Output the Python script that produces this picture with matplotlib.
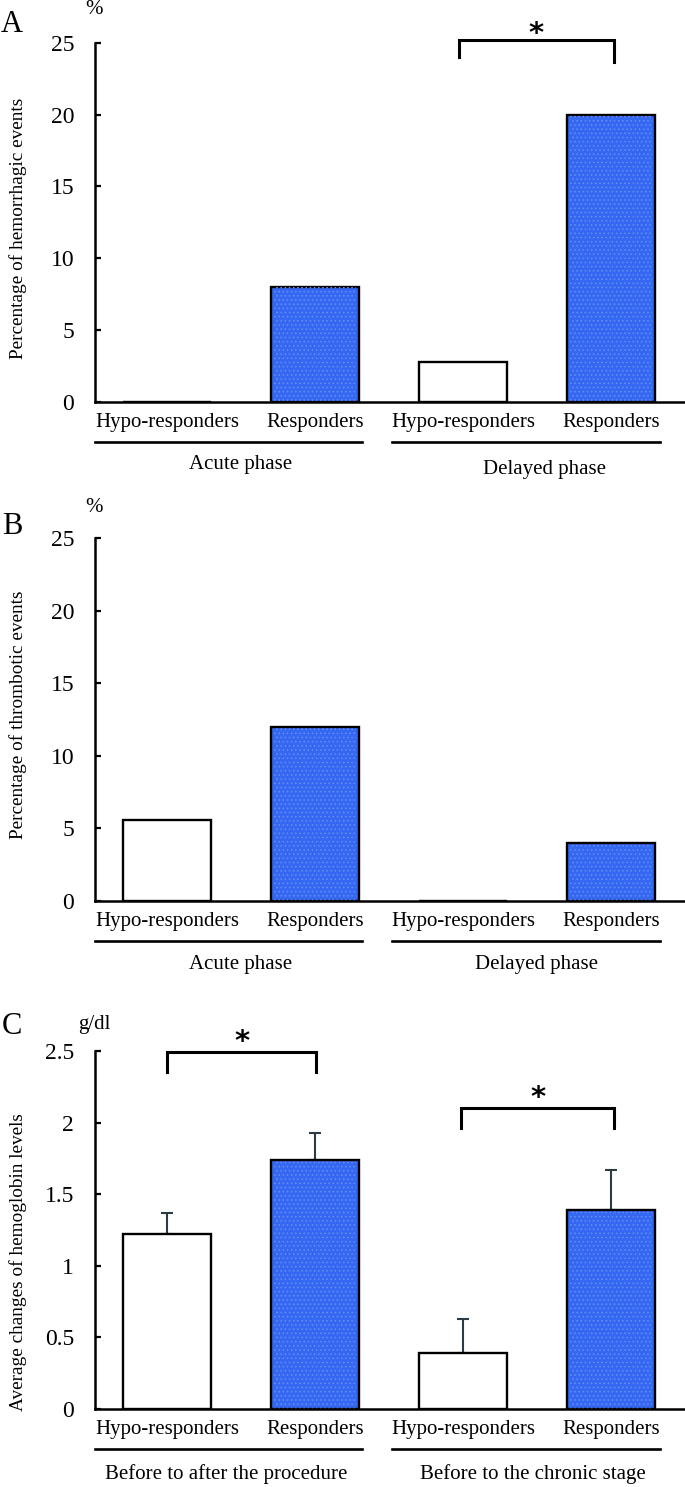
import matplotlib
matplotlib.use("Agg")
import matplotlib.pyplot as plt

plt.rcParams['font.family'] = ['Liberation Serif', 'DejaVu Serif']
plt.rcParams['hatch.linewidth'] = 0.6

# Données
groupes = ["Hypo-responders", "Responders", "Hypo-responders", "Responders"]
couleurs = ["white", "#3468f2", "white", "#3468f2"]

hemorragie = [0, 8, 2.8, 20]
thrombose = [5.6, 12, 0, 4]
hemoglobine = [1.22, 1.74, 0.39, 1.39]
hemoglobine_err = [0.15, 0.19, 0.24, 0.28]

phases_ab = ["Acute phase", "Delayed phase"]
phases_c = ["Before to after the procedure", "Before to the chronic stage"]

W, H = 685, 1487
fig = plt.figure(figsize=(W / 100, H / 100), dpi=100)


def px_axes(top, bottom):
    # axe placé en pixels (haut, bas), de x=95 jusqu'au bord droit
    return fig.add_axes([95 / W, 1 - bottom / H, 590 / W, (bottom - top) / H])


def panneau(ax, valeurs, ymax, yticks, ylabels, phases, phase_x, phase_dy,
            err=None):
    x = list(range(len(valeurs)))
    ax.bar(x, valeurs, width=0.59, color=couleurs, edgecolor="black",
           linewidth=1.7, zorder=3)
    # léger grain pointillé sur les barres bleues
    xb = [i for i in x if couleurs[i] != "white"]
    vb = [valeurs[i] for i in xb]
    ax.bar(xb, vb, width=0.55, color="none", edgecolor="#6a8ef0",
           linewidth=0, hatch="....", zorder=4)
    if err is not None:
        ax.errorbar(x, valeurs, yerr=[[0] * len(err), err], fmt="none",
                    ecolor="#2d3c44", elinewidth=1.5, capsize=4, capthick=1.5,
                    zorder=2)
    ax.set_xlim(-0.486, 3.5)
    ax.set_ylim(0, ymax)
    ax.set_yticks(yticks, ylabels, fontsize=17)
    ax.set_xticks(x, groupes, fontsize=15)
    ax.tick_params(axis="y", direction="in", length=4, width=1.6, pad=15)
    ax.tick_params(axis="x", length=0, pad=8)
    for s in ["top", "right"]:
        ax.spines[s].set_visible(False)
    ax.spines["left"].set_linewidth(1.8)
    ax.spines["bottom"].set_linewidth(1.8)
    ax.spines["bottom"].set_zorder(5)

    # soulignement des groupes et nom de la phase
    h_px = ax.get_position().height * H
    y_ligne = -40 / h_px
    for (x0, x1), nom, xc, dy in zip([(-0.486, 1.32), (1.52, 3.33)], phases,
                                     phase_x, phase_dy):
        ax.plot([x0, x1], [y_ligne, y_ligne], color="black", linewidth=1.9,
                transform=ax.get_xaxis_transform(), clip_on=False)
        ax.text(xc, -dy / h_px, nom, fontsize=15, ha="center", va="center",
                transform=ax.get_xaxis_transform())


def crochet(ax, x0, x1, haut, g, d, y_etoile):
    ax.plot([x0, x0, x1, x1], [g, haut, haut, d], color="black",
            linewidth=2.2, clip_on=False, solid_joinstyle="miter")
    ax.text((x0 + x1) / 2, y_etoile, "*", fontsize=21, fontweight="bold",
            family="DejaVu Sans", ha="center", va="center")


# Panneau A
axA = px_axes(43, 401.7)
panneau(axA, hemorragie, 25, [0, 5, 10, 15, 20, 25],
        ["0", "5", "10", "15", "20", "25"], phases_ab, [0.5, 2.55], [63, 68])
crochet(axA, 1.97, 3.02, 25.2, 24.0, 23.7, 25.6)
fig.text(18 / W, 1 - 228 / H, "Percentage of hemorrhagic events", rotation=90,
         fontsize=13.9, ha="center", va="center")
fig.text(12 / W, 1 - 25 / H, "A", fontsize=22, ha="center", va="center")
fig.text(94 / W, 1 - 10 / H, "%", fontsize=15, ha="center", va="center")

# Panneau B
axB = px_axes(538, 901)
panneau(axB, thrombose, 25, [0, 5, 10, 15, 20, 25],
        ["0", "5", "10", "15", "20", "25"], phases_ab, [0.5, 2.5], [64, 64])
fig.text(18 / W, 1 - 715 / H, "Percentage of thrombotic events", rotation=90,
         fontsize=13.9, ha="center", va="center")
fig.text(12 / W, 1 - 527 / H, "B", fontsize=22, ha="center", va="center")
fig.text(94 / W, 1 - 507 / H, "%", fontsize=15, ha="center", va="center")

# Panneau C
axC = px_axes(1051, 1409)
panneau(axC, hemoglobine, 2.5, [0, 0.5, 1, 1.5, 2, 2.5],
        ["0", "0.5", "1", "1.5", "2", "2.5"], phases_c, [0.4, 2.47], [65, 65],
        err=hemoglobine_err)
crochet(axC, 0.0, 1.01, 2.49, 2.35, 2.35, 2.56)
crochet(axC, 1.99, 3.02, 2.10, 1.96, 1.96, 2.17)
fig.text(18 / W, 1 - 1262 / H, "Average changes of hemoglobin levels",
         rotation=90, fontsize=13.9, ha="center", va="center")
fig.text(12 / W, 1 - 1027 / H, "C", fontsize=22, ha="center", va="center")
fig.text(94 / W, 1 - 1025 / H, "g/dl", fontsize=15, ha="center", va="center")

fig.savefig("out.png", dpi=100)
